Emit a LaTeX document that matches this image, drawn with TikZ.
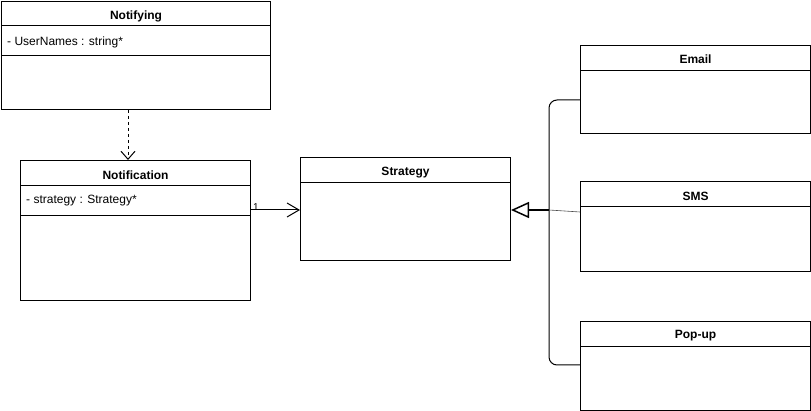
\documentclass[tikz,border=0pt]{standalone}
\usepackage{fontspec}
\setmainfont{Liberation Sans}
\usetikzlibrary{arrows.meta,calc}
\begin{document}
\begin{tikzpicture}[x=1pt,y=-1pt,
  classbox/.style={draw, line width=1pt, fill=white, anchor=north west, inner sep=0pt},
  ctitle/.style={font=\fontsize{12}{14}\selectfont\bfseries, inner sep=0pt},
  attr/.style={font=\fontsize{12}{14}\selectfont, anchor=west, inner sep=0pt},
  conn/.style={line width=1pt},
  mult/.style={font=\fontsize{10}{11}\selectfont, inner sep=0pt}]
\useasboundingbox (0,0) rectangle (811,411);

% Notifying
\node[classbox, minimum width=269pt, minimum height=108pt] (notifying) at (1,1) {};
\node[ctitle] (notifyingT) at ($(notifying.north)+(0,15)$) {Notifying};
\draw[line width=1pt] ([yshift=-25pt]notifying.north west) -- ([yshift=-25pt]notifying.north east);
\draw[line width=1pt] ([yshift=-55pt]notifying.north west) -- ([yshift=-55pt]notifying.north east);
\node[attr] (notifyingA) at ($(notifying.north west)+(6,41)$) {- UserNames : string*};

% Notification
\node[classbox, minimum width=230pt, minimum height=140pt] (notification) at (20,160) {};
\node[ctitle] (notificationT) at ($(notification.north)+(0,15)$) {Notification};
\draw[line width=1pt] ([yshift=-26pt]notification.north west) -- ([yshift=-26pt]notification.north east);
\draw[line width=1pt] ([yshift=-56pt]notification.north west) -- ([yshift=-56pt]notification.north east);
\node[attr] (notificationA) at ($(notification.north west)+(6,41)$) {- strategy : Strategy*};

% Strategy
\node[classbox, minimum width=210pt, minimum height=103pt] (strategy) at (300,157) {};
\node[ctitle] (strategyT) at ($(strategy.north)+(0,16)$) {Strategy};
\draw[line width=1pt] ([yshift=-26pt]strategy.north west) -- ([yshift=-26pt]strategy.north east);

% Email
\node[classbox, minimum width=230pt, minimum height=88pt] (email) at (580,45) {};
\node[ctitle] (emailT) at ($(email.north)+(0,14)$) {Email};
\draw[line width=1pt] ([yshift=-26pt]email.north west) -- ([yshift=-26pt]email.north east);

% SMS
\node[classbox, minimum width=230pt, minimum height=90pt] (sms) at (580,181) {};
\node[ctitle] (smsT) at ($(sms.north)+(0,15)$) {SMS};
\draw[line width=1pt] ([yshift=-26pt]sms.north west) -- ([yshift=-26pt]sms.north east);

% Pop-up
\node[classbox, minimum width=230pt, minimum height=89pt] (popup) at (580,321) {};
\node[ctitle] (popupT) at ($(popup.north)+(0,15)$) {Pop-up};
\draw[line width=1pt] ([yshift=-26pt]popup.north west) -- ([yshift=-26pt]popup.north east);

% Dependency Notifying -> Notification
\coordinate (depS) at (notifying.south -| 128,0);
\coordinate (depE) at (notification.north -| 128,0);
\draw[conn, dashed, dash pattern=on 3pt off 3pt, -{Straight Barb[length=8pt,width=14pt]}] (depS) -- (depE);

% Association Notification -> Strategy
\coordinate (asS) at ($(notification.north east)+(0,50)$);
\coordinate (asE) at ($(strategy.north west)+(0,53)$);
\draw[conn, -{Straight Barb[length=12pt,width=14pt]}] (asS) -- (asS -| asE);
\node[mult] (multOne) at ($(asS)+(5,-3)$) {1};

% Generalizations
\coordinate (gTip) at ($(strategy.north east)+(0,53)$);
\coordinate (gJoin) at (549,210);
\draw[conn, rounded corners=8pt] (email.west |- 0,100) -- (549,100) -- (549,365) -- (popup.west |- 0,365);
\draw[line width=0.6pt, black!70] (sms.west |- 0,212) -- (gJoin);
\draw[line width=2pt, -{Triangle[open, length=18pt, width=16pt, line width=1.5pt]}] (gJoin) -- (gTip);
\end{tikzpicture}
\end{document}
